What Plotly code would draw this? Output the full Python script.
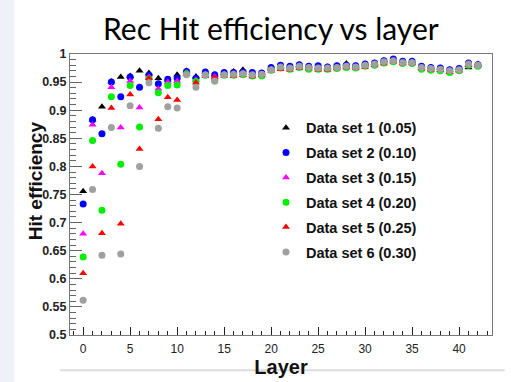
import plotly.graph_objects as go

layers = list(range(43))

ds1 = [0.756, 0.883, 0.906, 0.951, 0.959, 0.961, 0.970, 0.966, 0.957, 0.954, 0.963, 0.970, 0.960,
       0.968, 0.963, 0.966, 0.969, 0.972, 0.966, 0.966, 0.975, 0.979, 0.977, 0.980, 0.978, 0.977,
       0.977, 0.978, 0.983, 0.979, 0.982, 0.984, 0.988, 0.990, 0.987, 0.987, 0.978, 0.976, 0.975,
       0.972, 0.974, 0.976, 0.982]
ds2 = [0.733, 0.883, 0.858, 0.950, 0.924, 0.959, 0.941, 0.962, 0.947, 0.955, 0.957, 0.969, 0.957,
       0.968, 0.963, 0.967, 0.967, 0.968, 0.967, 0.966, 0.976, 0.980, 0.978, 0.981, 0.978, 0.979,
       0.977, 0.979, 0.980, 0.979, 0.982, 0.984, 0.988, 0.991, 0.987, 0.987, 0.978, 0.976, 0.975,
       0.972, 0.974, 0.984, 0.981]
ds3 = [0.680, 0.874, 0.788, 0.941, 0.869, 0.952, 0.905, 0.959, 0.938, 0.950, 0.952, 0.967, 0.954,
       0.964, 0.960, 0.964, 0.965, 0.966, 0.963, 0.964, 0.973, 0.977, 0.975, 0.978, 0.976, 0.975,
       0.975, 0.976, 0.978, 0.977, 0.980, 0.982, 0.986, 0.988, 0.985, 0.985, 0.975, 0.973, 0.971,
       0.968, 0.971, 0.982, 0.980]
ds4 = [0.639, 0.846, 0.722, 0.924, 0.804, 0.944, 0.870, 0.956, 0.931, 0.944, 0.945, 0.965, 0.951,
       0.962, 0.952, 0.962, 0.962, 0.963, 0.961, 0.961, 0.971, 0.975, 0.973, 0.976, 0.973, 0.973,
       0.973, 0.974, 0.976, 0.975, 0.978, 0.980, 0.984, 0.986, 0.983, 0.983, 0.973, 0.971, 0.970,
       0.967, 0.970, 0.980, 0.978]
ds5 = [0.610, 0.800, 0.681, 0.904, 0.698, 0.928, 0.831, 0.957, 0.884, 0.923, 0.918, 0.964, 0.949,
       0.961, 0.958, 0.961, 0.961, 0.962, 0.960, 0.962, 0.970, 0.973, 0.972, 0.975, 0.974, 0.972,
       0.972, 0.974, 0.976, 0.975, 0.977, 0.980, 0.983, 0.986, 0.983, 0.983, 0.974, 0.972, 0.971,
       0.968, 0.970, 0.980, 0.979]
ds6 = [0.562, 0.759, 0.642, 0.869, 0.644, 0.908, 0.800, 0.949, 0.868, 0.906, 0.904, 0.963, 0.941,
       0.963, 0.952, 0.963, 0.964, 0.965, 0.963, 0.964, 0.972, 0.977, 0.975, 0.978, 0.976, 0.975,
       0.975, 0.976, 0.978, 0.977, 0.980, 0.982, 0.986, 0.988, 0.985, 0.985, 0.976, 0.974, 0.973,
       0.970, 0.972, 0.982, 0.980]

names = ["Data set 1 (0.05)", "Data set 2 (0.10)", "Data set 3 (0.15)",
         "Data set 4 (0.20)", "Data set 5 (0.25)", "Data set 6 (0.30)"]
series = [ds1, ds2, ds3, ds4, ds5, ds6]
colors = ["#000000", "#0000ff", "#ff00ff", "#00ee00", "#ff0000", "#a0a0a0"]
symbols = ["triangle-up", "circle", "triangle-up", "circle", "triangle-up", "circle"]

y_ticks = [0.5, 0.55, 0.6, 0.65, 0.7, 0.75, 0.8, 0.85, 0.9, 0.95, 1.0]
y_labels = ["0.5", "0.55", "0.6", "0.65", "0.7", "0.75", "0.8", "0.85", "0.9", "0.95", "1"]
x_ticks = [0, 5, 10, 15, 20, 25, 30, 35, 40]

fig = go.Figure()
for i, (nm, ys) in enumerate(zip(names, series)):
    fig.add_trace(go.Scatter(
        x=layers, y=ys, mode="markers", name="<b>" + nm + "</b>",
        legendgroup="g%d" % i,
        marker=dict(symbol=symbols[i], color=colors[i], size=7, line=dict(width=0)),
    ))

PW, PH = 422, 287
fig.update_layout(
    width=511, height=382,
    paper_bgcolor="white", plot_bgcolor="white",
    margin=dict(l=70, r=19, t=54, b=41),
    title=dict(text="Rec Hit efficiency vs layer", x=0.53, xanchor="center", y=0.95, yanchor="top",
               font=dict(family="Lato, Open Sans", size=30, color="#000000")),
    showlegend=True,
    legend=dict(x=(266 - 70) / PW, y=1 - (113 - 54) / PH, xanchor="left", yanchor="top",
                bgcolor="rgba(0,0,0,0)", tracegroupgap=3,
                font=dict(family="Liberation Sans, Arial", size=14.5, color="#111111"),
                itemwidth=30),
    xaxis=dict(range=[-1.4, 43.5], tickvals=x_ticks, ticks="inside", ticklen=8, tickcolor="#222",
               showgrid=False, zeroline=False, showline=True, linecolor="#777", mirror=True,
               tickfont=dict(family="Liberation Sans, Arial", size=12, color="#222"),
               tickprefix="<b>", ticksuffix="</b>", ticklabelstandoff=3,
               minor=dict(dtick=1, ticks="inside", ticklen=4, tickcolor="#222"),
               title=dict(text="<b>Layer</b>", standoff=0,
                          font=dict(family="Liberation Sans, Arial", size=20, color="#111"))),
    yaxis=dict(range=[0.5, 1.0], tickvals=y_ticks, ticktext=["<b>" + t + "</b>" for t in y_labels],
               ticks="inside", ticklen=12, tickcolor="#666",
               showgrid=False, zeroline=False, showline=True, linecolor="#777", mirror=True,
               tickfont=dict(family="Liberation Sans, Arial", size=12.5, color="#222"),
               minor=dict(dtick=0.01, ticks="inside", ticklen=6, tickcolor="#666")),
    annotations=[
        dict(text="<b>Hit efficiency</b>", xref="paper", yref="paper",
             x=-(70 - 35) / PW, y=1 - (184 - 54) / PH, xanchor="center", yanchor="middle",
             textangle=-90, showarrow=False,
             font=dict(family="Liberation Sans, Arial", size=19, color="#111")),
    ],
    shapes=[
        dict(type="rect", xref="paper", yref="paper", x0=-70 / PW, x1=-56 / PW, y0=-0.2, y1=1.3,
             fillcolor="#eef2f8", line=dict(width=0), layer="below"),
        dict(type="line", xref="paper", yref="paper", x0=-10 / PW, x1=1.03, y0=-36 / PH, y1=-36 / PH,
             line=dict(color="#dddddd", width=2)),
    ],
)

fig.write_html("out.html")
